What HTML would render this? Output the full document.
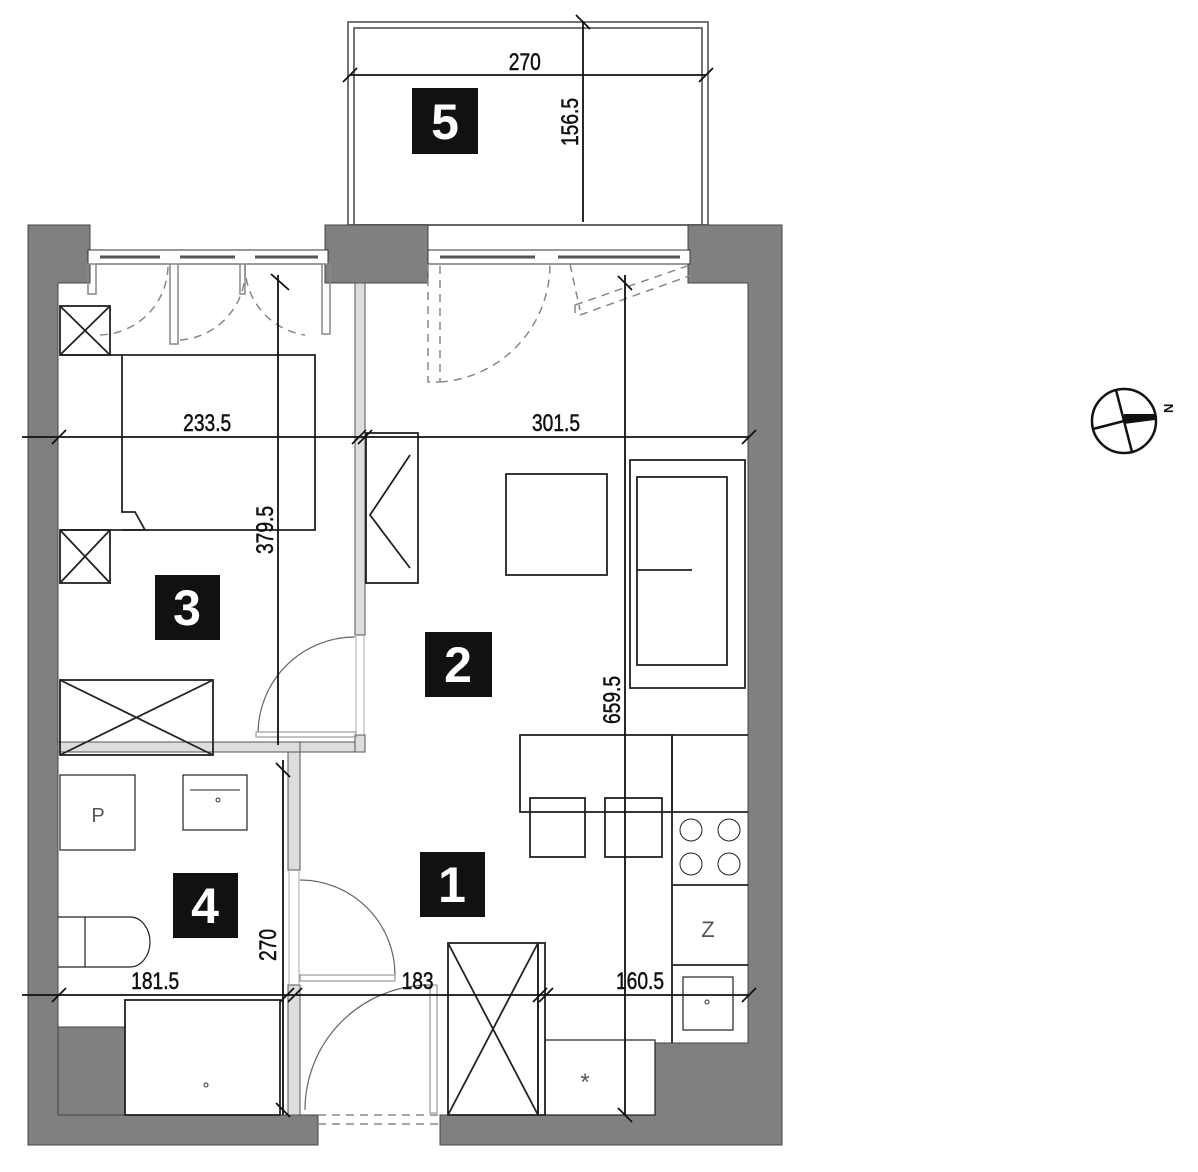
<!DOCTYPE html>
<html><head><meta charset="utf-8"><style>
html,body{margin:0;padding:0;background:#fff;}
svg{display:block;}
text{font-family:"Liberation Sans",sans-serif;}
</style></head><body>
<svg width="1198" height="1172" viewBox="0 0 1198 1172" xmlns="http://www.w3.org/2000/svg">
<rect width="1198" height="1172" fill="#fff"/>
<!-- Balcony -->
<rect x="348" y="22" width="360" height="203" fill="none" stroke="#666" stroke-width="1.8"/>
<rect x="354" y="28" width="348" height="197" fill="none" stroke="#666" stroke-width="1.8"/>
<!-- Gray walls -->
<g fill="#808080" stroke="#444" stroke-width="1">
<path d="M28,225 H90 V283 H58 V1115 H318 V1145 H28 Z"/>
<path d="M325,225 H428 V283 H325 Z"/>
<path d="M688,225 H782 V1145 H440 V1115 H655 V1043 H748 V283 H688 Z"/>
<path d="M58,1027 H125 V1115 H58 Z"/>
</g>
<!-- window sills -->
<g stroke="#333" fill="#fff" stroke-width="1">
<rect x="88" y="250" width="240" height="14"/>
<rect x="428" y="250" width="262" height="14"/>
</g>
<g stroke="#555" stroke-width="3">
<line x1="100" y1="257" x2="160" y2="257"/><line x1="180" y1="257" x2="235" y2="257"/><line x1="255" y1="257" x2="318" y2="257"/>
<line x1="440" y1="257" x2="535" y2="257"/><line x1="558" y1="257" x2="680" y2="257"/>
</g>
<g stroke="#888" fill="none" stroke-width="1.5">
<rect x="88" y="264" width="8" height="30"/><rect x="322" y="264" width="8" height="70"/>
<rect x="170" y="264" width="8" height="80"/><rect x="240" y="264" width="5" height="30"/>
</g>
<!-- Interior partitions -->
<g fill="#ddd" stroke="#555" stroke-width="1">
<rect x="355" y="283" width="10" height="352"/>
<rect x="58" y="742" width="297" height="10"/>
<rect x="300" y="742" width="65" height="10"/>
<rect x="355" y="735" width="10" height="17"/>
<rect x="288" y="752" width="12" height="118"/>
<rect x="288" y="985" width="12" height="130"/>
</g>
<g stroke="#aaa" stroke-width="1">
<line x1="356" y1="635" x2="356" y2="735"/><line x1="364" y1="635" x2="364" y2="735"/>
<line x1="289" y1="870" x2="289" y2="985"/><line x1="299" y1="870" x2="299" y2="985"/>
</g>
<!-- Furniture -->
<g fill="none" stroke="#222" stroke-width="1.8">
<rect x="60" y="306" width="50" height="49"/><line x1="60" y1="306" x2="110" y2="355"/><line x1="110" y1="306" x2="60" y2="355"/>
<rect x="60" y="530" width="50" height="53"/><line x1="60" y1="530" x2="110" y2="583"/><line x1="110" y1="530" x2="60" y2="583"/>
<path d="M60,355 H315 V530 H60"/>
<path d="M122,355 V512 H135 L145,530 H122"/>
<rect x="60" y="680" width="153" height="75"/><line x1="60" y1="680" x2="213" y2="755"/><line x1="213" y1="680" x2="60" y2="755"/>
<rect x="366" y="433" width="52" height="150"/><path d="M410,455 L370,515 L410,568"/>
<rect x="506" y="474" width="101" height="101"/>
<rect x="630" y="460" width="115" height="228"/><rect x="637" y="477" width="90" height="188"/><line x1="637" y1="570" x2="692" y2="570"/>
<rect x="520" y="735" width="152" height="77"/>
<rect x="530" y="798" width="55" height="59"/><rect x="605" y="798" width="57" height="59"/>
<path d="M672,735 H748 M672,735 V1043 M672,812 H748 M672,885 H748 M672,965 H748"/>
<circle cx="691" cy="830" r="11" stroke-width="1"/><circle cx="729" cy="830" r="11" stroke-width="1"/>
<circle cx="691" cy="864" r="11" stroke-width="1"/><circle cx="729" cy="864" r="11" stroke-width="1"/>
<rect x="683" y="977" width="50" height="53" stroke-width="1.2"/>
<rect x="448" y="943" width="90" height="172"/><line x1="448" y1="943" x2="538" y2="1115"/><line x1="538" y1="943" x2="448" y2="1115"/>
<rect x="538" y="943" width="7" height="172"/>
<rect x="545" y="1040" width="110" height="75" stroke-width="1.2"/>
<rect x="60" y="775" width="75" height="75" stroke-width="1.2"/>
<rect x="183" y="775" width="64" height="55" stroke-width="1.2"/><line x1="190" y1="790" x2="240" y2="790" stroke-width="1"/>
<path d="M58,917 H130 A20,25 0 0 1 130,967 H58 M85,917 V967" stroke-width="1.2"/>
<rect x="125" y="1000" width="155" height="115"/>
</g>
<circle cx="218" cy="800" r="2" fill="none" stroke="#333"/>
<circle cx="707" cy="1002" r="2" fill="none" stroke="#333"/>
<circle cx="206" cy="1085" r="2" fill="none" stroke="#333"/>
<text x="98" y="822" font-size="20" fill="#555" text-anchor="middle">P</text>
<text x="708" y="937" font-size="22" fill="#555" text-anchor="middle">Z</text>
<text x="585" y="1090" font-size="24" fill="#555" text-anchor="middle">*</text>
<!-- Doors -->
<g fill="none" stroke="#666" stroke-width="1.2">
<path d="M355,637 A97,97 0 0 0 258,732"/>
<rect x="256" y="732" width="100" height="5" stroke="#999"/>
<path d="M300,880 A95,95 0 0 1 395,975"/>
<rect x="300" y="975" width="95" height="6" stroke="#999"/>
<path d="M430,985 A125,125 0 0 0 305,1110"/>
<rect x="430" y="985" width="7" height="128" stroke="#999"/>
</g>
<g fill="none" stroke="#888" stroke-width="1.5" stroke-dasharray="8,6">
<path d="M318,1115 H440 M318,1124 H440"/>
<path d="M428,264 V382 H440 V264"/>
<path d="M440,382 A118,118 0 0 0 550,264"/>
<path d="M575,305 L690,265 M580,315 L692,275 M575,305 V315"/>
<path d="M100,335 A70,70 0 0 0 168,264"/>
<path d="M180,340 A70,70 0 0 0 245,264"/>
<path d="M245,264 A70,70 0 0 0 305,335"/>
<line x1="570" y1="264" x2="580" y2="310"/>
</g>
<!-- Dimension lines -->
<g stroke="#111" stroke-width="1.8" fill="none">
<line x1="350" y1="75" x2="706" y2="75"/><line x1="343" y1="82" x2="357" y2="68"/><line x1="699" y1="82" x2="713" y2="68"/>
<line x1="583" y1="22" x2="583" y2="222"/><line x1="576" y1="15" x2="590" y2="29"/>
<line x1="22" y1="437" x2="748" y2="437"/><line x1="52" y1="444" x2="66" y2="430"/><line x1="352" y1="444" x2="366" y2="430"/><line x1="358" y1="444" x2="372" y2="430"/><line x1="742" y1="444" x2="756" y2="430"/>
<line x1="278" y1="275" x2="278" y2="745"/><line x1="271" y1="274" x2="289" y2="290"/>
<line x1="625" y1="275" x2="625" y2="1115"/><line x1="618" y1="276" x2="632" y2="290"/><line x1="618" y1="1108" x2="632" y2="1122"/>
<line x1="22" y1="995" x2="748" y2="995"/><line x1="52" y1="1002" x2="66" y2="988"/><line x1="280" y1="1002" x2="294" y2="988"/><line x1="288" y1="1002" x2="302" y2="988"/><line x1="533" y1="1002" x2="547" y2="988"/><line x1="539" y1="1002" x2="553" y2="988"/><line x1="742" y1="1002" x2="756" y2="988"/>
<line x1="283" y1="760" x2="283" y2="1115"/><line x1="276" y1="763" x2="290" y2="777"/><line x1="276" y1="1103" x2="290" y2="1117"/>
</g>
<g font-size="24" fill="#111" stroke="#111" stroke-width="0.5" text-anchor="middle" transform="scale(0.8,1)">
<text x="656" y="70">270</text>
<text x="259" y="431">233.5</text>
<text x="695" y="431">301.5</text>
<text x="194" y="989">181.5</text>
<text x="522" y="989">183</text>
<text x="800" y="989">160.5</text>
</g>
<g font-size="24" fill="#111" stroke="#111" stroke-width="0.5" text-anchor="middle">
<text transform="translate(578,122) rotate(-90) scale(0.8,1)">156.5</text>
<text transform="translate(273,530) rotate(-90) scale(0.8,1)">379.5</text>
<text transform="translate(620,700) rotate(-90) scale(0.8,1)">659.5</text>
<text transform="translate(276,945) rotate(-90) scale(0.8,1)">270</text>
</g>
<!-- Room labels -->
<g fill="#111">
<rect x="412" y="88" width="66" height="66"/>
<rect x="155" y="575" width="65" height="65"/>
<rect x="425" y="632" width="67" height="65"/>
<rect x="173" y="873" width="65" height="65"/>
<rect x="420" y="852" width="65" height="65"/>
</g>
<g fill="#fff" font-size="50" font-weight="bold" text-anchor="middle">
<text x="445" y="139">5</text>
<text x="187" y="625">3</text>
<text x="458" y="682">2</text>
<text x="205" y="923">4</text>
<text x="452" y="902">1</text>
</g>
<!-- Compass -->
<g stroke="#111" stroke-width="2.5" fill="none">
<circle cx="1124" cy="421" r="32"/>
<line x1="1116" y1="390" x2="1132" y2="452"/>
<line x1="1093" y1="429" x2="1124" y2="421"/>
</g>
<path d="M1124,414 L1156,414 L1155,420 L1124,424 Z" fill="#111"/>
<text x="1168" y="418" font-size="13" font-weight="bold" fill="#111" transform="rotate(-90 1168 413)">N</text>
</svg>
</body></html>
